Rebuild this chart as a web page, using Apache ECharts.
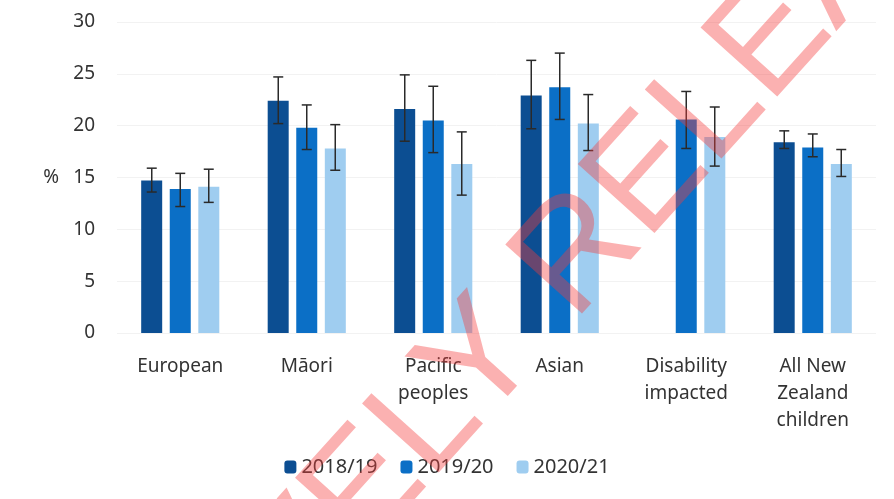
<!DOCTYPE html>
<html>
<head>
<meta charset="utf-8">
<script src="https://cdn.jsdelivr.net/npm/echarts@6/dist/echarts.min.js"></script>
<style>
  html, body { margin: 0; padding: 0; background: #fff; }
  #chart { width: 894px; height: 499px; }
</style>
</head>
<body>
<div id="chart"></div>
<script>
// groups on the x axis
const categories = ['European', 'Māori', 'Pacific\npeoples', 'Asian', 'Disability\nimpacted', 'All New\nZealand\nchildren'];
const seriesNames = ['2018/19', '2019/20', '2020/21'];

// bar values (%)
const values1819 = [14.7, 22.4, 21.6, 22.9, null, 18.4];
const values1920 = [13.9, 19.8, 20.5, 23.7, 20.6, 17.9];
const values2021 = [14.1, 17.8, 16.3, 20.2, 18.9, 16.3];

// confidence intervals (low, high)
const low1819 = [13.6, 20.2, 18.5, 19.7, null, 17.8];
const high1819 = [15.9, 24.7, 24.9, 26.3, null, 19.5];
const low1920 = [12.2, 17.7, 17.4, 20.6, 17.8, 17.0];
const high1920 = [15.4, 22.0, 23.8, 27.0, 23.3, 19.2];
const low2021 = [12.6, 15.7, 13.3, 17.6, 16.1, 15.1];
const high2021 = [15.8, 20.1, 19.4, 23.0, 21.8, 17.7];

const yTicks = { min: 0, max: 30, interval: 5 };

const colors = ['#0c4e92', '#0b6fc6', '#9fcdf0'];
const barWidth = 21;
const barStep = 28.5;
const font = '"Noto Sans", sans-serif';

const chart = echarts.init(document.getElementById('chart'));

function errorSeries(idx, lows, highs) {
  const data = [];
  lows.forEach((l, i) => {
    if (l != null && highs[i] != null) data.push([i, l, highs[i]]);
  });
  return {
    type: 'custom',
    name: 'err' + idx,
    z: 5,
    silent: true,
    data: data,
    encode: { x: 0, y: [1, 2] },
    renderItem(params, api) {
      const off = (idx - 1) * barStep;
      const lo = api.coord([api.value(0), api.value(1)]);
      const hi = api.coord([api.value(0), api.value(2)]);
      const x = lo[0] + off;
      const cap = 5;
      const style = { stroke: '#2a2a2a', lineWidth: 1.5 };
      return {
        type: 'group',
        children: [
          { type: 'line', shape: { x1: x, y1: lo[1], x2: x, y2: hi[1] }, style },
          { type: 'line', shape: { x1: x - cap, y1: lo[1], x2: x + cap, y2: lo[1] }, style },
          { type: 'line', shape: { x1: x - cap, y1: hi[1], x2: x + cap, y2: hi[1] }, style },
        ],
      };
    },
  };
}

// watermark across the chart
const markAngle = 48 * Math.PI / 180;
const markStyle = {
  fontSize: 150,
  fontFamily: '"Liberation Sans", Arial, sans-serif',
  fill: 'rgba(245, 60, 60, 0.4)',
  verticalAlign: 'middle',
};

const option = {
  animation: false,
  color: colors,
  textStyle: { fontFamily: font },
  grid: { left: 117, right: 18, top: 22, bottom: 166 },
  legend: {
    data: seriesNames,
    bottom: 17,
    left: 'center',
    itemWidth: 12,
    itemHeight: 13,
    itemGap: 23,
    textStyle: { fontSize: 20, color: '#333', fontFamily: font },
  },
  xAxis: {
    type: 'category',
    data: categories,
    axisLine: { show: false },
    axisTick: { show: false },
    axisLabel: { fontSize: 19, color: '#333', margin: 20, lineHeight: 27, interval: 0 },
  },
  yAxis: {
    type: 'value',
    min: yTicks.min,
    max: yTicks.max,
    interval: yTicks.interval,
    name: '%',
    nameLocation: 'middle',
    nameRotate: 0,
    nameGap: 58,
    nameTextStyle: { fontSize: 19, color: '#333' },
    axisLine: { show: false },
    axisTick: { show: false },
    axisLabel: { fontSize: 19, color: '#333', margin: 22 },
    splitLine: { lineStyle: { color: '#f2f2f2' } },
  },
  series: [
    { name: seriesNames[0], type: 'bar', data: values1819, barWidth: barWidth, barGap: '36%' },
    { name: seriesNames[1], type: 'bar', data: values1920, barWidth: barWidth, barGap: '36%' },
    { name: seriesNames[2], type: 'bar', data: values2021, barWidth: barWidth, barGap: '36%' },
    errorSeries(0, low1819, high1819),
    errorSeries(1, low1920, high1920),
    errorSeries(2, low2021, high2021),
  ],
  graphic: [
    {
      type: 'text', x: 543, y: 295, rotation: markAngle, z: 100, silent: true,
      style: Object.assign({ text: 'RELEASED', align: 'left' }, markStyle),
    },
    {
      type: 'text', x: 543, y: 295, rotation: markAngle, z: 100, silent: true,
      style: Object.assign({ text: 'PROACTIVELY ', align: 'right' }, markStyle),
    },
  ],
};

chart.setOption(option);
window.addEventListener('resize', () => { chart.resize(); });
</script>
</body>
</html>
